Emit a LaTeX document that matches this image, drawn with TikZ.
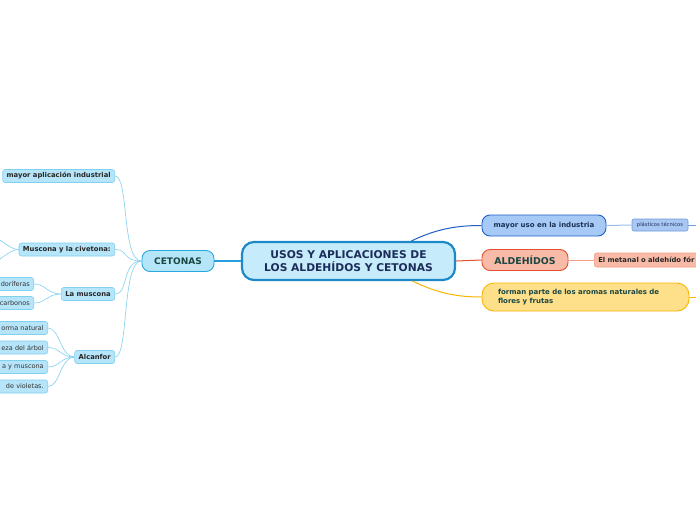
\documentclass[tikz,border=0pt]{standalone}
\usepackage{fontspec}
\setmainfont{DejaVu Sans}
\usetikzlibrary{positioning, calc}
\definecolor{centrofondo}{HTML}{C6EBFA}
\definecolor{centroborde}{HTML}{1E88C8}
\definecolor{centrotexto}{HTML}{1C2D5A}
\definecolor{cetfondo}{HTML}{B5E5F8}
\definecolor{cetborde}{HTML}{29A9E0}
\definecolor{cetlinea}{RGB}{38,160,220}
\definecolor{celeste}{HTML}{B6E4F8}
\definecolor{celesteborde}{HTML}{82D0F0}
\definecolor{verdeoscuro}{HTML}{1B4642}
\definecolor{azulfondo}{HTML}{A6C9F6}
\definecolor{azulborde}{HTML}{1F5FC6}
\definecolor{azulclaro}{HTML}{A9C7F3}
\definecolor{azulclaroborde}{HTML}{6C9BE0}
\definecolor{salmon}{HTML}{F8BBA7}
\definecolor{rojoborde}{HTML}{E5502F}
\definecolor{salmonborde}{HTML}{F29C85}
\definecolor{amarillo}{HTML}{FEDF8A}
\definecolor{amarilloborde}{HTML}{F9B500}

\begin{document}
\begin{tikzpicture}[x=1pt, y=-1pt,
    centro/.style={draw=centroborde, line width=2.2pt, fill=centrofondo, rounded corners=12pt,
        minimum width=213pt, minimum height=38pt, align=center, text=centrotexto,
        font=\fontsize{10.7}{13}\selectfont\bfseries},
    tema/.style={line width=0.9pt, rounded corners=8pt, minimum height=21pt, text=verdeoscuro,
        font=\fontsize{9}{11}\selectfont\bfseries},
    hijo/.style={draw=celesteborde, line width=0.6pt, fill=celeste, rounded corners=2.5pt,
        minimum height=13pt, inner ysep=0pt, inner xsep=4pt, anchor=east, text=black!85,
        font=\fontsize{6.8}{8}\selectfont\bfseries},
    hoja/.style={hijo, font=\fontsize{6.5}{8}\selectfont, text=black!80, text width=70pt, align=right},
    rama/.style={draw=celesteborde, line width=0.6pt},
    ]
    % Fondo y margenes
    \fill[white] (0,0) rectangle (696,520);
    \useasboundingbox (0,0) rectangle (696,520);

    % Idea central
    \node[centro] (centro) at (348.5,261) {USOS Y APLICACIONES DE\\LOS ALDEHÍDOS Y CETONAS};

    % Rama izquierda: cetonas
    \node[tema, draw=cetborde, fill=cetfondo, minimum width=72pt] (cetonas) at (178,261) {CETONAS};
    \draw[cetlinea, line width=1.2pt] (cetonas.east) -- (centro.west);

    \node[hijo] (industrial) at (115,176) {mayor aplicación industrial};
    \node[hijo] (civetona) at (115,249.5) {Muscona y la civetona:};
    \node[hijo] (muscona) at (115,294) {La muscona};
    \node[hijo] (alcanfor) at (115,357) {Alcanfor};

    \foreach \n in {industrial, civetona, muscona, alcanfor}
        \draw[rama] (cetonas.west) .. controls +(-20,0) and +(14,0) .. (\n.east);

    % Hijos de la civetona (fuera del cuadro)
    \coordinate (civeta1) at (-8,237);
    \coordinate (civeta2) at (-8,262);
    \draw[rama] (civetona.west) .. controls +(-10,0) and +(8,0) .. (civeta1);
    \draw[rama] (civetona.west) .. controls +(-10,0) and +(8,0) .. (civeta2);

    % Hojas de la muscona
    \node[hoja] (odorif) at (34,284) {doríferas};
    \node[hoja] (carbonos) at (34,303) {carbonos};
    \foreach \n in {odorif, carbonos}
        \draw[rama] (muscona.west) .. controls +(-14,0) and +(12,0) .. (\n.east);

    % Hojas del alcanfor
    \node[hoja] (natural) at (48,328) {orma natural};
    \node[hoja] (arbol) at (48,347.5) {eza del árbol};
    \node[hoja] (ymuscona) at (48,367) {a y muscona};
    \node[hoja] (violetas) at (48,386.5) {de violetas.};
    \foreach \n in {natural, arbol, ymuscona, violetas}
        \draw[rama] (alcanfor.west) .. controls +(-14,0) and +(12,0) .. (\n.east);

    % Rama derecha: industria
    \node[tema, draw=azulborde, fill=azulfondo, minimum width=124pt, text=centrotexto!80!verdeoscuro,
        font=\fontsize{7}{8}\selectfont\bfseries] (usoind) at (544,225.5) {mayor uso en la industria};
    \draw[draw=azulborde, line width=1pt] ([xshift=63pt]centro.north) .. controls +(25,-12) and +(-25,0) .. (usoind.west);

    \node[draw=azulclaroborde, fill=azulclaro, line width=0.6pt, rounded corners=2pt, minimum width=56pt,
        minimum height=12pt, inner ysep=0pt, inner xsep=2pt, text=centrotexto, font=\fontsize{5.2}{6}\selectfont] (plastico) at (660,225) {plásticos técnicos};
    \draw[draw=azulclaro!90!azulborde, line width=1pt] (usoind.east) -- (plastico.west);
    \coordinate (plasticofin) at (705,225);
    \draw[draw=azulclaroborde, line width=1pt] (plastico.east) -- (plasticofin);

    % Rama derecha: aldehidos
    \node[tema, draw=rojoborde, fill=salmon, minimum width=86pt, font=\fontsize{9.4}{11}\selectfont\bfseries] (aldehidos) at (525,260) {ALDEHÍDOS};
    \draw[draw=rojoborde, line width=1pt] (centro.east) -- (aldehidos.west);

    \node[hijo, draw=salmonborde, fill=salmon, anchor=west, text width=120pt, align=left, minimum height=14pt] (metanal) at (594,260) {El metanal o aldehído fór};
    \draw[draw=salmonborde, line width=0.6pt] (aldehidos.east) -- (metanal.west);

    % Rama derecha: aromas
    \node[tema, draw=amarilloborde, fill=amarillo, rounded corners=12pt, minimum height=28pt, text width=175pt,
        inner xsep=16pt, align=left, font=\fontsize{7}{9}\selectfont\bfseries] (aromas) at (585.5,297)
        {forman parte de los aromas naturales de\\flores y frutas};
    \draw[draw=amarilloborde, line width=1pt] ([xshift=64pt]centro.south) .. controls +(25,12) and +(-25,0) .. (aromas.west);
    \coordinate (aromasfin) at (705,297);
    \draw[draw=amarilloborde, line width=1pt] (aromas.east) -- (aromasfin);
\end{tikzpicture}
\end{document}
